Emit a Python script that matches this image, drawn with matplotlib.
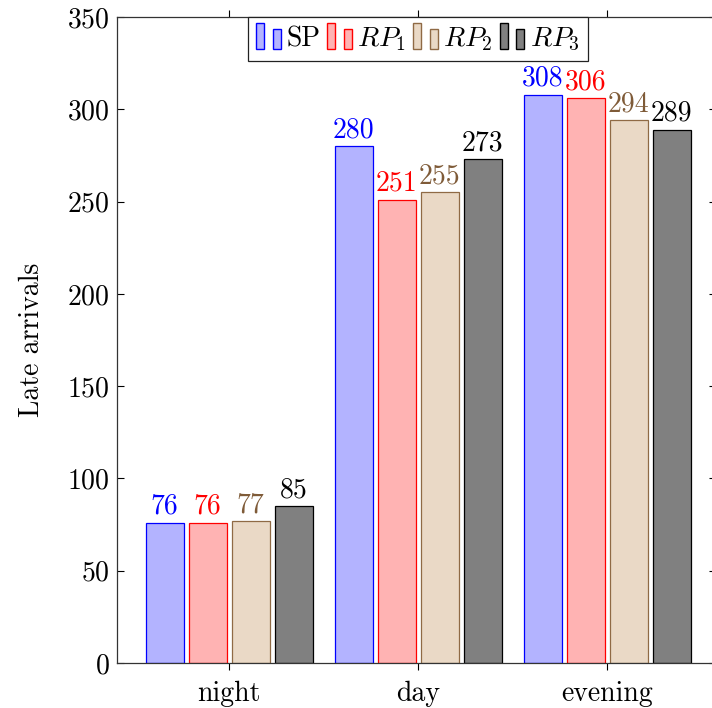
import matplotlib.pyplot as plt
import numpy as np
from matplotlib.legend_handler import HandlerBase
from matplotlib.patches import Rectangle

plt.rcParams['font.family'] = 'cmr10'
plt.rcParams['mathtext.fontset'] = 'cm'
plt.rcParams['axes.formatter.use_mathtext'] = True

periods = ['night', 'day', 'evening']
sp = [76, 280, 308]
rp1 = [76, 251, 306]
rp2 = [77, 255, 294]
rp3 = [85, 273, 289]
names = ['SP', '$RP_1$', '$RP_2$', '$RP_3$']

fills = ['#b3b3ff', '#ffb3b3', '#ead9c6', '#808080']
edges = ['#0000ff', '#ff0000', '#8f6a45', '#000000']
txtcols = ['#0000ff', '#ff0000', '#7f5b38', '#000000']


class TwoBars(HandlerBase):
    # pgfplots style legend image: two small bars
    def create_artists(self, legend, orig, xd, yd, width, height, fontsize, trans):
        w = width * 0.32
        r1 = Rectangle((-xd, -yd - 2), w, height * 1.2 + 2, transform=trans,
                       facecolor=orig.get_facecolor(), edgecolor=orig.get_edgecolor(), lw=1)
        r2 = Rectangle((-xd + width * 0.66, -yd - 2), w, height * 0.9 + 2, transform=trans,
                       facecolor=orig.get_facecolor(), edgecolor=orig.get_edgecolor(), lw=1)
        return [r1, r2]


fig = plt.figure(figsize=(7.12, 7.08), dpi=100)
axw = 599
ax = fig.add_axes([117 / 712, 45 / 708, axw / 712, 646 / 708])

x = np.arange(len(periods))
pitch = 0.2275
width = 0.201
fs = 20
handles = []
for i, (vals, nm) in enumerate(zip([sp, rp1, rp2, rp3], names)):
    pos = x + (i - 1.5) * pitch
    bars = ax.bar(pos, vals, width, color=fills[i], edgecolor=edges[i], linewidth=0.9,
                  label=nm, zorder=2)
    handles.append(bars[0])
    for p, v in zip(pos, vals):
        ax.annotate(str(v), (p, v), xytext=(0, 2), textcoords='offset points',
                    ha='center', va='bottom', color=txtcols[i], fontsize=fs)

ax.set_xlim(-0.593, -0.593 + axw / 189)
ax.set_ylim(0, 350)
ax.set_xticks(x)
ax.set_xticklabels(periods)
ax.set_yticks(np.arange(0, 351, 50))
ax.tick_params(axis='y', direction='in', right=True, length=5, width=0.8, labelsize=fs, pad=5)
ax.tick_params(axis='x', direction='out', top=True, length=5, width=0.8, labelsize=fs, pad=8)
for s in ax.spines.values():
    s.set_linewidth(0.9)
    s.set_color('#333333')
ax.spines['right'].set_visible(False)
ax.set_ylabel('Late arrivals', fontsize=fs, labelpad=16)

leg = ax.legend(handles=handles, labels=names, loc='upper center',
                bbox_to_anchor=(301 / axw, 1.0),
                ncol=4, fontsize=fs, frameon=True, fancybox=False, edgecolor='#222222',
                framealpha=1, handlelength=0.9, handletextpad=0.18, columnspacing=0.25,
                borderpad=0.3, borderaxespad=0,
                handler_map={Rectangle: TwoBars()})
leg.get_frame().set_linewidth(0.9)

fig.savefig('out.png', dpi=100)
